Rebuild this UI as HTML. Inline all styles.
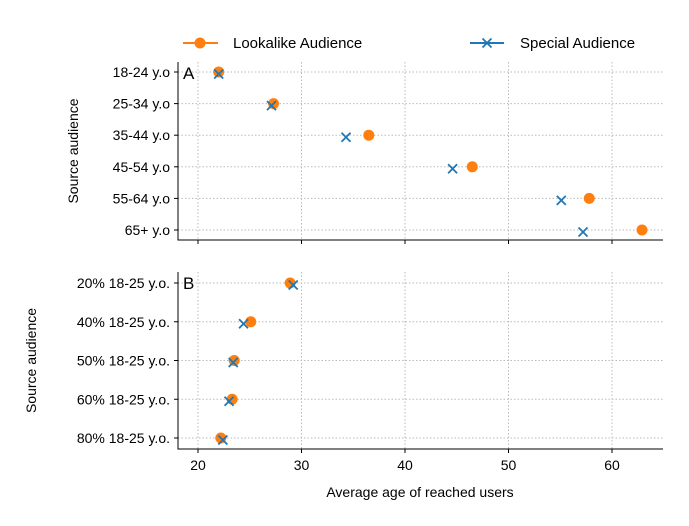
<!DOCTYPE html>
<html><head><meta charset="utf-8"><style>
body{margin:0;background:#fff;font-family:"Liberation Sans",sans-serif}
svg text{font-family:"Liberation Sans",sans-serif;fill:#000}
</style></head><body>
<svg id="chart" width="689" height="521"></svg>
<script>
const catsA=["18-24 y.o","25-34 y.o","35-44 y.o","45-54 y.o","55-64 y.o","65+ y.o"];
const lookA=[22.0,27.3,36.5,46.5,57.8,62.9];
const specA=[22.0,27.1,34.3,44.6,55.1,57.2];
const catsB=["20% 18-25 y.o.","40% 18-25 y.o.","50% 18-25 y.o.","60% 18-25 y.o.","80% 18-25 y.o."];
const lookB=[28.9,25.1,23.5,23.3,22.2];
const specB=[29.2,24.4,23.4,23.0,22.4];
const xTicks=[20,30,40,50,60];

const NS="http://www.w3.org/2000/svg";
const svg=document.getElementById("chart");
function el(t,a,p){const e=document.createElementNS(NS,t);for(const k in a)e.setAttribute(k,a[k]);(p||svg).appendChild(e);return e;}
const X0=178,X1=663;
const xs=v=>198+(v-20)*10.35;
const ORANGE="#ff7f0e",BLUE="#1f77b4";

function panel(cats,look,spec,top,bottom,pad,label,name,titleX){
  const g=el("g",{});
  
  
  const step=(bottom-top-2*pad)/(cats.length-1);
  const ys=i=>top+pad+i*step;
  xTicks.forEach(t=>{
    const l=el("line",{x1:xs(t),x2:xs(t),y1:top,y2:bottom,stroke:"#bbb","stroke-dasharray":"1.5,2","stroke-width":1},g);
    
  });
  cats.forEach((c,i)=>{
    const l=el("line",{x1:X0,x2:X1,y1:ys(i),y2:ys(i),stroke:"#bbb","stroke-dasharray":"1.5,2","stroke-width":1},g);
    
    const tk=el("line",{x1:X0-4,x2:X0,y1:ys(i),y2:ys(i),stroke:"#000"},g);
    
    const t=el("text",{x:X0-8,y:ys(i)+5,"text-anchor":"end","font-size":14},g);
    t.textContent=c;
  });
  const sp=el("path",{d:`M${X0},${top}V${bottom}H${X1}`,fill:"none",stroke:"#000","stroke-width":1},g);
  
  xTicks.forEach(t=>{
    const tk=el("line",{x1:xs(t),x2:xs(t),y1:bottom,y2:bottom+4,stroke:"#000"},g);
    
  });
  look.forEach((v,i)=>{
    const c=el("circle",{cx:xs(v),cy:ys(i),r:5.5,fill:ORANGE},g);
    
  });
  spec.forEach((v,i)=>{
    const x=xs(v),y=ys(i)+2;
    const p=el("path",{d:`M${x-4.5},${y-4.5}L${x+4.5},${y+4.5}M${x-4.5},${y+4.5}L${x+4.5},${y-4.5}`,stroke:BLUE,"stroke-width":1.8},g);
    
  });
  const lt=el("text",{x:183,y:top+17,"font-size":17},g);
  lt.textContent=label;
  const yt=el("text",{transform:`translate(${titleX},${(top+bottom)/2}) rotate(-90)`,"text-anchor":"middle","font-size":14},g);
  yt.textContent="Source audience";
}
panel(catsA,lookA,specA,62,240,10,"A","panel-a",78);
panel(catsB,lookB,specB,272,449,11,"B","panel-b",36);
xTicks.forEach(t=>{
  const tx=el("text",{x:xs(t),y:470,"text-anchor":"middle","font-size":14});
  tx.textContent=t;
});
const xt=el("text",{x:420,y:497,"text-anchor":"middle","font-size":14});
xt.textContent="Average age of reached users";
const lg=el("g",{});

const l1=el("line",{x1:183,x2:218,y1:43,y2:43,stroke:ORANGE,"stroke-width":2},lg);

const c1=el("circle",{cx:200,cy:43,r:5.5,fill:ORANGE},lg);

const t1=el("text",{x:233,y:48,"font-size":15},lg);
t1.textContent="Lookalike Audience";
const l2=el("line",{x1:470,x2:504,y1:43,y2:43,stroke:BLUE,"stroke-width":2},lg);

const m2=el("path",{d:"M482.5,38.5L491.5,47.5M482.5,47.5L491.5,38.5",stroke:BLUE,"stroke-width":1.8},lg);

const t2=el("text",{x:520,y:48,"font-size":15},lg);
t2.textContent="Special Audience";
</script>
</body></html>
